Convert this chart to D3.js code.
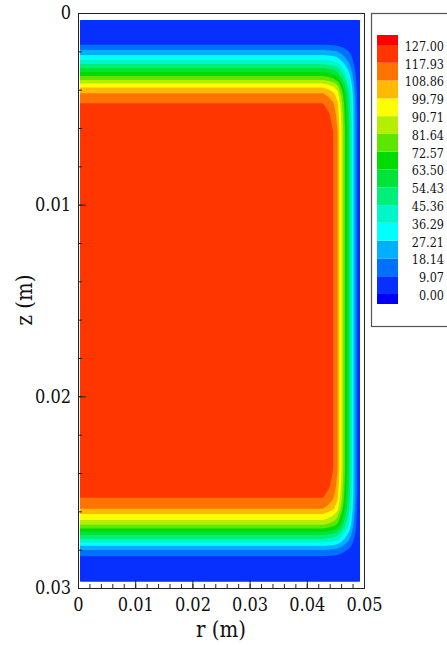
<!DOCTYPE html>
<html lang="en">
<head>
<meta charset="UTF-8">
<title>Temperature contour</title>
<style>
  body { margin: 0; background: #fff; }
</style>
</head>
<body>
<script src="https://d3js.org/d3.v7.min.js"></script>
<script>
// contour levels, as printed in the legend
var levels = [0, 9.07, 18.14, 27.21, 36.29, 45.36, 54.43, 63.50, 72.57, 81.64, 90.71, 99.79, 108.86, 117.93, 127.00];
var levelLabels = ["0.00", "9.07", "18.14", "27.21", "36.29", "45.36", "54.43", "63.50", "72.57", "81.64", "90.71", "99.79", "108.86", "117.93", "127.00"];
// band colours: below 0, then each interval, then above 127
var bandColors = ["#0000f8", "#0730ff", "#0070ff", "#00b0ff", "#00ffff", "#00f5c8", "#00ee7a", "#00e43a",
                  "#00dc00", "#5ce600", "#b4ee00", "#ffff00", "#ffba00", "#ff7400", "#ff3600", "#ff0000"];

// temperature read down the height near the top wall (z in m)
var zTop = [0, 0.000365, 0.001669, 0.001930, 0.002191, 0.002452, 0.002660, 0.002869, 0.003078,
            0.003286, 0.003495, 0.003678, 0.003886, 0.004173, 0.004695, 0.0053, 0.0062];
var tTop = [1, 2, 9.07, 18.14, 27.21, 36.29, 45.36, 54.43, 63.50, 72.57, 81.64, 90.71, 99.79, 108.86, 117.93, 123, 127];
// near the bottom wall
var zBot = [0.0238, 0.0247, 0.02530, 0.02587, 0.02613, 0.02645, 0.02671, 0.02689, 0.02707,
            0.02723, 0.02744, 0.02762, 0.02780, 0.02801, 0.02833, 0.02968, 0.0300];
var tBot = [127, 123, 117.93, 108.86, 99.79, 90.71, 81.64, 72.57, 63.50, 54.43, 45.36, 36.29, 27.21, 18.14, 9.07, 2, 1];
// along the radius, near the outer wall (r in m)
var rSide = [0, 0.0428, 0.0438, 0.04463, 0.04540, 0.04568, 0.04607, 0.04638, 0.04668, 0.04703,
             0.04738, 0.04764, 0.04790, 0.04816, 0.04851, 0.04878, 0.0493];
var tSide = [127, 127, 123, 117.93, 108.86, 99.79, 90.71, 81.64, 72.57, 63.50, 54.43, 45.36, 36.29, 27.21, 18.14, 9.07, 3];

var xTicks = [0, 0.01, 0.02, 0.03, 0.04, 0.05];
var xTickLabels = ["0", "0.01", "0.02", "0.03", "0.04", "0.05"];
var yTicks = [0, 0.01, 0.02, 0.03];
var yTickLabels = ["0", "0.01", "0.02", "0.03"];
var minorStep = 0.002;

// computed domain of the solution
var r0 = 0.00035, r1 = 0.0493, z0 = 0.000365, z1 = 0.02968;

var serif = "'DejaVu Serif Condensed', 'DejaVu Serif', serif";

var width = 447, height = 645;
var svg = d3.select("body").append("svg").attr("width", width).attr("height", height);

var x = d3.scaleLinear().domain([0, 0.05]).range([78, 364]);
var y = d3.scaleLinear().domain([0, 0.03]).range([13, 588]);

var fTop = d3.scaleLinear().domain(zTop).range(tTop).clamp(true);
var fBot = d3.scaleLinear().domain(zBot).range(tBot).clamp(true);
var fSide = d3.scaleLinear().domain(rSide).range(tSide).clamp(true);

function tempAt(r, z) {
    var tz = z < 0.015 ? fTop(z) : fBot(z);
    return Math.min(tz * fSide(r) / 127, 126.9);
}

var nx = 280, ny = 562;
var dr = (r1 - r0) / nx, dz = (z1 - z0) / ny;
var values = new Array(nx * ny);
for (var j = 0; j < ny; j++) {
    for (var i = 0; i < nx; i++) {
        values[j * nx + i] = tempAt(r0 + (i + 0.5) * dr, z0 + (j + 0.5) * dz);
    }
}

var contours = d3.contours().size([nx, ny]).thresholds(levels)(values);
var proj = d3.geoTransform({
    point: function(px, py) { this.stream.point(x(r0 + px * dr), y(z0 + py * dz)); }
});
var path = d3.geoPath(proj);

svg.append("g")
    .selectAll("path")
    .data(contours)
    .join("path")
    .attr("d", path)
    .attr("fill", function(d, i) { return bandColors[i + 1]; });

// frame
svg.append("rect")
    .attr("x", 78.5).attr("y", 13.5)
    .attr("width", 286).attr("height", 575)
    .attr("fill", "none").attr("stroke", "#222");

// axes
var minorX = d3.range(0, 0.0501, minorStep);
var minorY = d3.range(0, 0.0301, minorStep);

function style(g) {
    g.select(".domain").remove();
    g.selectAll("line").attr("stroke", "#222");
    g.attr("font-size", 18).attr("font-family", null);
    g.selectAll("text").attr("fill", "#111");
}

svg.append("g").attr("transform", "translate(0,588)")
    .call(d3.axisBottom(x).tickValues(minorX).tickSize(-4).tickFormat(""))
    .call(style);
svg.append("g").attr("transform", "translate(0,588)")
    .call(d3.axisBottom(x).tickValues(xTicks).tickSize(-8).tickPadding(10)
        .tickFormat(function(d, i) { return xTickLabels[i]; }))
    .call(style);

svg.append("g").attr("transform", "translate(78,0)")
    .call(d3.axisLeft(y).tickValues(minorY).tickSize(-4).tickFormat(""))
    .call(style);
svg.append("g").attr("transform", "translate(78,0)")
    .call(d3.axisLeft(y).tickValues(yTicks).tickSize(-8).tickPadding(7)
        .tickFormat(function(d, i) { return yTickLabels[i]; }))
    .call(style);

svg.append("text")
    .attr("x", 221).attr("y", 637)
    .attr("text-anchor", "middle")
    .style("font-size", "22px")
    .text("r (m)");

svg.append("text")
    .attr("transform", "translate(32,300) rotate(-90)")
    .attr("text-anchor", "middle")
    .style("font-size", "22px")
    .text("z (m)");

// legend
var legend = svg.append("g");
legend.append("rect")
    .attr("x", 371.5).attr("y", 13.5)
    .attr("width", 100).attr("height", 313)
    .attr("fill", "#fff").attr("stroke", "#555").attr("stroke-width", 1.2);

var ly = d3.scaleLinear().domain([127, 0]).range([45, 294]);
var boxes = [];
for (var k = 0; k < bandColors.length; k++) {
    var y0 = k === bandColors.length - 1 ? 35 : ly(levels[k]);
    var y1 = k === 0 ? 304 : ly(levels[k - 1]);
    boxes.push({ y0: y0, y1: y1, color: bandColors[k] });
}
legend.selectAll("rect.box")
    .data(boxes)
    .join("rect")
    .attr("class", "box")
    .attr("x", 377).attr("width", 21)
    .attr("y", function(d) { return d.y0; })
    .attr("height", function(d) { return d.y1 - d.y0; })
    .attr("fill", function(d) { return d.color; });

legend.selectAll("text")
    .data(levels)
    .join("text")
    .attr("x", 444)
    .attr("y", function(d) { return ly(d) + 1.5; })
    .attr("dy", "0.35em")
    .attr("text-anchor", "end")
    .style("font-size", "12.5px")
    .text(function(d, i) { return levelLabels[i]; });

svg.selectAll("text").style("font-family", serif).style("fill", "#111");
</script>
</body>
</html>
